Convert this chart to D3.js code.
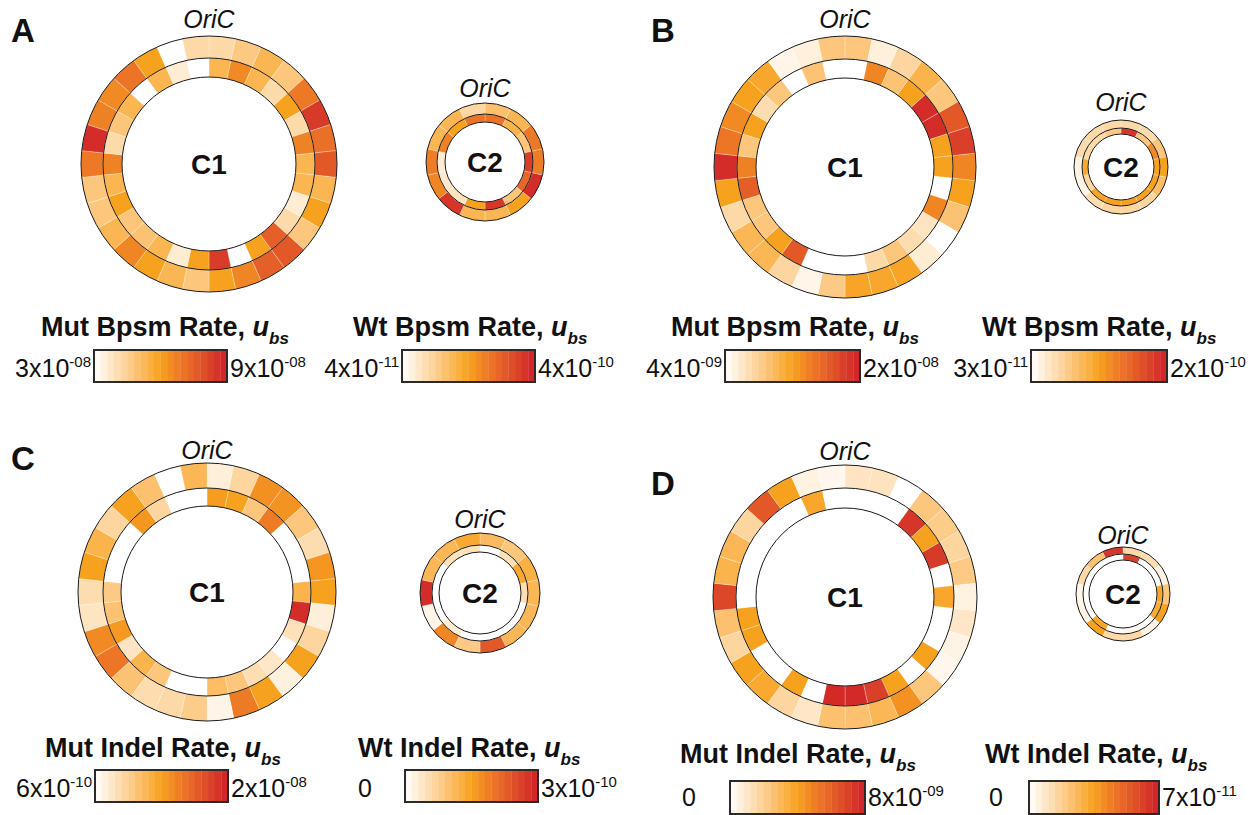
<!DOCTYPE html>
<html>
<head>
<meta charset="utf-8">
<script src="https://cdn.jsdelivr.net/npm/d3@7"></script>
<style>
  body { margin: 0; background: #fff; }
  text { font-family: "Liberation Sans", Arial, Helvetica, sans-serif; fill: #111; }
</style>
</head>
<body>
<svg id="chart" width="1258" height="815"></svg>
<script>
// Per-bin substitution / indel rates. C1 is split into 30 bins, C2 into 14;
// bin 0 starts at OriC (12 o'clock) and bins run clockwise.
// Outer ring = mutant (Mut), inner ring = wild type (Wt).

// A: base-pair substitution rates
const aMutC1 = [4.2,4.7,5.3,4.8,6.9,8.4,7.1,7.7,5.3,6.0,4.8,7.7,7.5,6.6,6.0,4.8,5.3,6.0,6.6,5.3,4.8,4.8,6.9,8.7,6.7,6.5,7.0,6.0,3.0,4.2]; // x1e-8
const aWtC1  = [18,25,18,11,22,11,26,18,18,7.6,11,31,22,4,36,22,7.6,18,15.5,15,22,18,26,11,15,18,4,18,7.6,4];          // x1e-11
const aMutC2 = [5.0,5.3,6.9,6.8,8.7,6.0,5.3,5.3,8.5,6.6,6.8,5.3,5.3,4.3];                                              // x1e-8
const aWtC2  = [28,18.4,15,36,30,15,37,22,9.4,8.3,7.6,26,22,28];                                                      // x1e-11
const aMutRange = [3e-8, 9e-8];
const aWtRange  = [4e-11, 4e-10];

// B: base-pair substitution rates
const bMutC1 = [8.8,5.3,7.5,10.4,8.8,16.5,18.1,13.6,12,9.1,4,5.6,11.7,11.5,11.7,8.5,4.8,7.5,10.1,10.1,7.2,12,19.2,14.6,13.3,12,11.5,4.8,5.3,8.8]; // x1e-9
const bWtC1  = [3,13.2,8.4,11.5,19.2,19.2,11.5,11.5,3,13.2,5.4,6.1,8.1,6.4,3,3,3,16.3,11.5,8.1,8.1,15.8,13.5,8.1,11.5,6.1,8.1,3,8.4,3];          // x1e-11
const bMutC2 = [7.2,6.9,8.8,12,9.6,7.5,7.5,7.5,6.9,5.0,5.0,6.9,7.2,7.2];                                                // x1e-9
const bWtC2  = [18.6,8.1,12.9,11.5,11.5,11.5,11.5,11.5,11.2,6.7,10.8,6.4,6.4,7.8];                                      // x1e-11
const bMutRange = [4e-9, 2e-8];
const bWtRange  = [3e-11, 2e-10];

// C: indel rates
const cMutC1 = [2.2,4.9,11.5,11.3,6.4,4.1,11.1,10.3,2.2,4.9,10.3,2.0,10.3,13.0,1.6,5.8,4.5,4.1,6.8,13.4,11.9,3.3,4.1,10.3,8.4,4.9,10.3,7.0,0.6,8.0]; // x1e-9
const cWtC1  = [15.6,15,9,19.2,0,0,0,12,28.5,4.8,0,3.9,5.4,9,10.5,0,0,9,12,4.2,15.9,9.6,8.4,0,0,0,16.2,6.6,0,0];                            // x1e-11
const cMutC2 = [7.6,6.4,8.7,8.0,8.0,8.0,15.7,6.0,12.2,1.6,19.0,8.0,8.0,9.5];                                            // x1e-9
const cWtC2  = [0,4.8,13.8,5.4,0,0,0,0,3,0,0,0,4.8,4.8];                                                                // x1e-11
const cMutRange = [6e-10, 2e-8];
const cWtRange  = [0, 3e-10];

// D: indel rates
const dMutC1 = [1.12,1.2,0,2.4,2.16,1.76,2.24,0.56,1.04,0.48,0.32,2.4,4.48,3.04,2.64,2.64,1.04,1.76,3.68,4.0,1.76,2.64,6.8,3.2,3.04,1.76,6.24,4.0,0.56,0.32]; // x1e-9
const dWtC1  = [0,0,0,6.44,3.5,6.3,0,3.29,0,0,3.5,0,3.5,6.16,6.72,6.72,0,3.5,0,0,3.5,3.5,0,0,0,0,0,0,3.29,0];                                  // x1e-11
const dMutC2 = [1.6,1.44,0.48,2.4,4.0,0.48,1.6,1.6,4.0,0.48,0.4,1.6,2.56,7.36];                                           // x1e-9
const dWtC2  = [6.16,0,0,3.29,3.15,0,0.28,0,3.29,0,0,0,0,0];                                                              // x1e-11
const dMutRange = [0, 8e-9];
const dWtRange  = [0, 7e-11];

const panelLetters = ["A", "B", "C", "D"];
const chromNames = ["C1", "C2"];
const originLabel = "OriC";
const mutTitles = ["Mut Bpsm Rate, ", "Mut Bpsm Rate, ", "Mut Indel Rate, ", "Mut Indel Rate, "];
const wtTitles  = ["Wt Bpsm Rate, ", "Wt Bpsm Rate, ", "Wt Indel Rate, ", "Wt Indel Rate, "];

// ---- palette: white -> peach -> orange -> red ----
const paletteStops = ["#ffffff","#feecd3","#fdd9a8","#fcc67c","#fbb34c","#f7a21e","#f08524","#e96c28","#e05427","#d83a29","#d01f28"];
const palette = d3.piecewise(d3.interpolateRgb, paletteStops);
const legendSteps = 20;

// ---- layout ----
// lo/hi: x of the range labels; a zero label is left-aligned at loX, others end at loX
const layout = [
  { letter: [11, 42],
    c1: { cx: 209, cy: 164, r: [128, 106, 87], oriY: 28 },
    c2: { cx: 485, cy: 162, r: [59, 48, 40], oriY: 97 },
    mut: { titleX: 41, titleY: 336, barX: 94, barY: 350, barW: 133, barH: 32, loX: 91, hiX: 230 },
    wt:  { titleX: 353, titleY: 336, barX: 402, barY: 350, barW: 133, barH: 32, loX: 399, hiX: 538 } },
  { letter: [651, 42],
    c1: { cx: 845, cy: 167, r: [131, 108, 89], oriY: 28 },
    c2: { cx: 1121, cy: 167, r: [47, 39, 33], oriY: 111 },
    mut: { titleX: 671, titleY: 336, barX: 725, barY: 350, barW: 135, barH: 32, loX: 722, hiX: 863 },
    wt:  { titleX: 982, titleY: 336, barX: 1031, barY: 350, barW: 136, barH: 32, loX: 1028, hiX: 1170 } },
  { letter: [11, 470],
    c1: { cx: 207, cy: 592, r: [129, 104, 86], oriY: 459 },
    c2: { cx: 480, cy: 593, r: [60, 48, 41], oriY: 528 },
    mut: { titleX: 45, titleY: 757, barX: 95, barY: 770, barW: 133, barH: 32, loX: 92, hiX: 231 },
    wt:  { titleX: 358, titleY: 757, barX: 405, barY: 770, barW: 133, barH: 32, loX: 358, hiX: 541 } },
  { letter: [651, 495],
    c1: { cx: 845, cy: 597, r: [132, 109, 89], oriY: 460 },
    c2: { cx: 1123, cy: 594, r: [47, 40, 34], oriY: 544 },
    mut: { titleX: 680, titleY: 763, barX: 730, barY: 781, barW: 135, barH: 33, loX: 682, hiX: 868 },
    wt:  { titleX: 985, titleY: 763, barX: 1029, barY: 781, barW: 130, barH: 33, loX: 989, hiX: 1162 } }
];

const panelData = [
  { mut: [aMutC1.map(v => v * 1e-8), aMutC2.map(v => v * 1e-8)], wt: [aWtC1.map(v => v * 1e-11), aWtC2.map(v => v * 1e-11)], mutRange: aMutRange, wtRange: aWtRange },
  { mut: [bMutC1.map(v => v * 1e-9), bMutC2.map(v => v * 1e-9)], wt: [bWtC1.map(v => v * 1e-11), bWtC2.map(v => v * 1e-11)], mutRange: bMutRange, wtRange: bWtRange },
  { mut: [cMutC1.map(v => v * 1e-9), cMutC2.map(v => v * 1e-9)], wt: [cWtC1.map(v => v * 1e-11), cWtC2.map(v => v * 1e-11)], mutRange: cMutRange, wtRange: cWtRange },
  { mut: [dMutC1.map(v => v * 1e-9), dMutC2.map(v => v * 1e-9)], wt: [dWtC1.map(v => v * 1e-11), dWtC2.map(v => v * 1e-11)], mutRange: dMutRange, wtRange: dWtRange }
];

const svg = d3.select("#chart");

function colorScale(range) {
  const t = d3.scaleLinear().domain(range).range([0, 1]).clamp(true);
  return v => palette(t(v));
}

// "3x10" + superscript "-08"; zero printed plainly
function splitLabel(v) {
  if (v === 0) return ["0", null];
  const e = Math.floor(Math.log10(v) + 1e-9);
  const m = Math.round(v / Math.pow(10, e));
  const sign = e < 0 ? "-" : "";
  return [m + "x10", sign + String(Math.abs(e)).padStart(2, "0")];
}

function drawRing(g, values, rOuter, rInner, color) {
  const n = values.length;
  const step = 2 * Math.PI / n;
  const arc = d3.arc().innerRadius(rInner).outerRadius(rOuter)
    .startAngle((d, i) => i * step).endAngle((d, i) => (i + 1) * step);
  g.selectAll(null).data(values).join("path")
    .attr("d", (d, i) => arc(d, i))
    .attr("fill", d => color(d))
    .attr("stroke", "rgba(255,255,255,0.45)")
    .attr("stroke-width", 0.6);
}

function drawChromosome(spec, mutVals, wtVals, mutColor, wtColor, name) {
  const g = svg.append("g").attr("transform", `translate(${spec.cx},${spec.cy})`);
  const [r0, r1, r2] = spec.r;
  drawRing(g, mutVals, r0, r1, mutColor);
  drawRing(g, wtVals, r1, r2, wtColor);
  g.selectAll(null).data(spec.r).join("circle")
    .attr("r", d => d).attr("fill", "none")
    .attr("stroke", "#1a1a1a").attr("stroke-width", 1);
  g.append("text").attr("text-anchor", "middle").attr("y", 10)
    .attr("font-size", 28).attr("font-weight", "bold").text(name);
  svg.append("text").attr("x", spec.cx).attr("y", spec.oriY)
    .attr("text-anchor", "middle").attr("font-size", 25).attr("font-style", "italic")
    .text(originLabel);
}

function drawLegend(spec, title, range) {
  const t = svg.append("text").attr("x", spec.titleX).attr("y", spec.titleY)
    .attr("font-size", 27).attr("font-weight", "bold");
  t.append("tspan").text(title);
  t.append("tspan").attr("font-style", "italic").text("u");
  t.append("tspan").attr("font-style", "italic").attr("font-size", 17).attr("dy", 8).text("bs");

  const x = d3.scaleLinear().domain([0, legendSteps]).range([spec.barX, spec.barX + spec.barW]);
  const color = colorScale(range);
  const stepVals = d3.range(legendSteps).map(i => range[0] + (range[1] - range[0]) * (i + 0.5) / legendSteps);
  svg.selectAll(null).data(stepVals).join("rect")
    .attr("x", (d, i) => x(i)).attr("y", spec.barY)
    .attr("width", (d, i) => x(i + 1) - x(i) + 0.3).attr("height", spec.barH)
    .attr("fill", d => color(d));
  svg.append("rect").attr("x", spec.barX).attr("y", spec.barY)
    .attr("width", spec.barW).attr("height", spec.barH)
    .attr("fill", "none").attr("stroke", "#2a2a2a").attr("stroke-width", 2);

  const baseY = Math.min(spec.barY + spec.barH / 2 + 11, 806);
  [[range[0], spec.loX, true], [range[1], spec.hiX, false]].forEach(([v, lx, isLow]) => {
    const [main, sup] = splitLabel(v);
    const anchor = (isLow && sup) ? "end" : "start";
    const lab = svg.append("text").attr("x", lx).attr("y", baseY)
      .attr("text-anchor", anchor).attr("font-size", 25);
    lab.append("tspan").text(main);
    if (sup) lab.append("tspan").attr("font-size", 15).attr("dy", -10).text(sup);
  });
}

layout.forEach((L, p) => {
  const D = panelData[p];
  svg.append("text").attr("x", L.letter[0]).attr("y", L.letter[1])
    .attr("font-size", 33).attr("font-weight", "bold").text(panelLetters[p]);
  const mutColor = colorScale(D.mutRange);
  const wtColor = colorScale(D.wtRange);
  drawChromosome(L.c1, D.mut[0], D.wt[0], mutColor, wtColor, chromNames[0]);
  drawChromosome(L.c2, D.mut[1], D.wt[1], mutColor, wtColor, chromNames[1]);
  drawLegend(L.mut, mutTitles[p], D.mutRange);
  drawLegend(L.wt, wtTitles[p], D.wtRange);
});
</script>
</body>
</html>
